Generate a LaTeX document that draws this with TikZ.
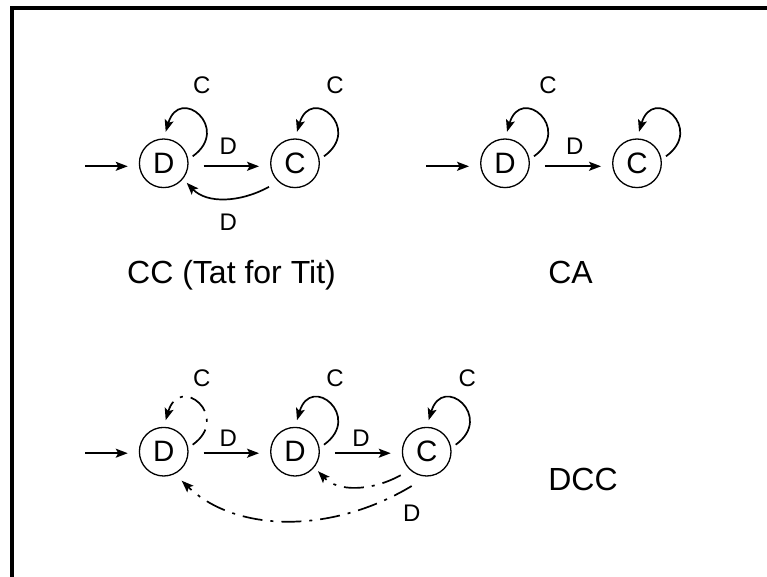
\documentclass[tikz,border=0pt]{standalone}
\usepackage{fontspec}
\setmainfont{Liberation Sans}
\usetikzlibrary{arrows.meta,calc}
\begin{document}
\begin{tikzpicture}[x=1pt,y=-1pt,
  state/.style={circle,draw,line width=1.3pt,minimum size=48.6pt,inner sep=0pt,font=\fontsize{29.5}{31}\selectfont},
  lab/.style={font=\fontsize{24}{26}\selectfont,anchor=base,inner sep=0pt},
  captxt/.style={font=\fontsize{32}{34}\selectfont,anchor=base,inner sep=0pt},
  arr/.style={line width=1.7pt,-{Stealth[length=12pt,width=9pt,inset=2.5pt]}},
  dd/.style={dash pattern=on 20pt off 8pt on 3pt off 8pt}]
\useasboundingbox (0,0) rectangle (767,577);
\draw[line width=4pt] (12,577) -- (12,8) -- (767,8);

% ---------- CC (Tat for Tit)
\node[state] (a1) at (163.7,163.3) {D};
\node[state] (a2) at (295,163.3) {C};
\coordinate (a0) at (85,166.3);
\draw[arr,shorten >=11pt] (a0) -- (a1.west |- a0);
\draw[arr,shorten <=15pt,shorten >=11pt] ([yshift=-3pt]a1.east) -- ([yshift=-3pt]a2.west);
\draw[arr] ($(a1)+(29,-7)$) .. controls +(39,-28) and +(14,-47) .. ($(a1)+(2,-31.5)$);
\draw[arr] ($(a2)+(29,-7)$) .. controls +(39,-28) and +(14,-47) .. ($(a2)+(2,-31.5)$);
\draw[arr] ($(a2)+(-26,23.5)$) .. controls +(-29,16) and +(20,21) .. ($(a1)+(23,19.5)$);
\node[lab] (la1) at (201.7,93.5) {C};
\node[lab] (la2) at (335,93.5) {C};
\node[lab] (la3) at (228.3,155) {D};
\node[lab] (la4) at (228.3,230) {D};
\node[captxt] (ca) at (231.5,283.3) {CC (Tat for Tit)};

% ---------- CA
\node[state] (b1) at (505,163.3) {D};
\node[state] (b2) at (637,163.3) {C};
\coordinate (b0) at (426,166.3);
\draw[arr,shorten >=11pt] (b0) -- (b1.west |- b0);
\draw[arr,shorten <=15pt,shorten >=11pt] ([yshift=-3pt]b1.east) -- ([yshift=-3pt]b2.west);
\draw[arr] ($(b1)+(29,-7)$) .. controls +(39,-28) and +(14,-47) .. ($(b1)+(2,-31.5)$);
\draw[arr] ($(b2)+(29,-7)$) .. controls +(39,-28) and +(14,-47) .. ($(b2)+(2,-31.5)$);
\node[lab] (lb1) at (548,93.5) {C};
\node[lab] (lb2) at (574.7,155) {D};
\node[captxt] (cb) at (570.5,283.3) {CA};

% ---------- DCC
\node[state] (c1) at (163.7,451.7) {D};
\node[state] (c2) at (295,451.7) {D};
\node[state] (c3) at (426.7,451.7) {C};
\coordinate (c0) at (85,453.2);
\draw[arr,shorten >=11pt] (c0) -- (c1.west |- c0);
\draw[arr,shorten <=15pt,shorten >=11pt] ([yshift=-1.5pt]c1.east) -- ([yshift=-1.5pt]c2.west);
\draw[arr,shorten <=15pt,shorten >=11pt] ([yshift=-1.5pt]c2.east) -- ([yshift=-1.5pt]c3.west);
\draw[arr,dd] ($(c1)+(29,-7)$) .. controls +(39,-28) and +(14,-47) .. ($(c1)+(2,-31.5)$);
\draw[arr] ($(c2)+(29,-7)$) .. controls +(39,-28) and +(14,-47) .. ($(c2)+(2,-31.5)$);
\draw[arr] ($(c3)+(29,-7)$) .. controls +(39,-28) and +(14,-47) .. ($(c3)+(2,-31.5)$);
\draw[arr,dd] ($(c3)+(-26,23.5)$) .. controls +(-29,16) and +(20,21) .. ($(c2)+(23,19.5)$);
\draw[arr,dd] ($(c3)+(-15,34.3)$) .. controls +(-81.7,49) and +(53.3,51.3) .. ($(c1)+(18,29)$);
\node[lab] (lc1) at (201.7,386.7) {C};
\node[lab] (lc2) at (335,386.7) {C};
\node[lab] (lc3) at (467.2,386.7) {C};
\node[lab] (lc4) at (228.3,446) {D};
\node[lab] (lc5) at (361,446) {D};
\node[lab] (lc6) at (411.7,521.7) {D};
\node[captxt] (cc) at (583,490) {DCC};
\end{tikzpicture}
\end{document}
